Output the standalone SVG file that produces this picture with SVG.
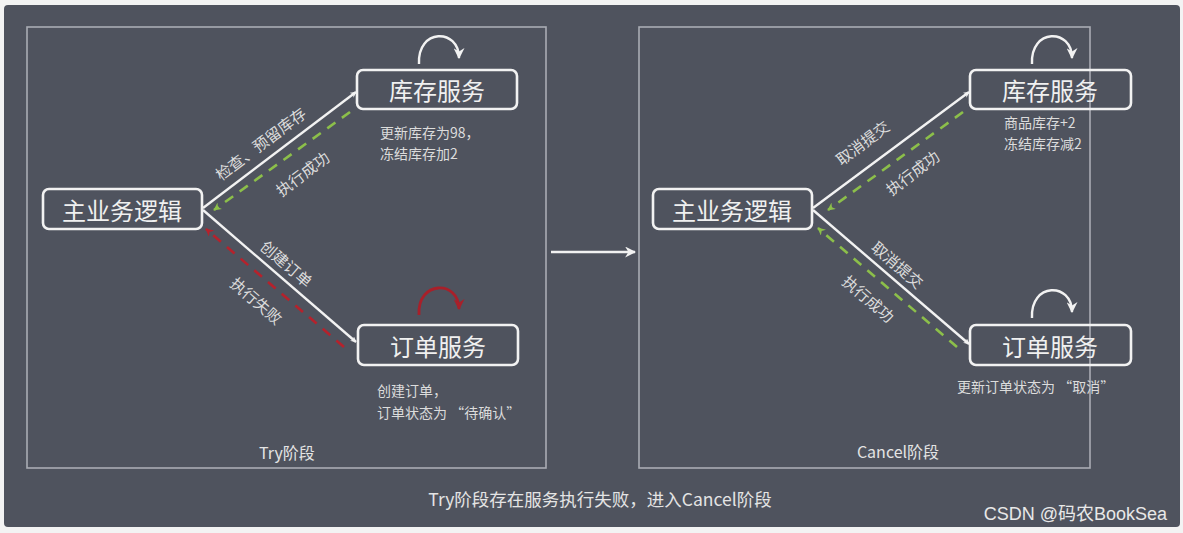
<svg xmlns="http://www.w3.org/2000/svg" width="1183" height="533" viewBox="0 0 1183 533">
<defs>
<style>
.bg{fill:#4f535e}
.panel{fill:none;stroke:#a9acb3;stroke-width:1.6}
.box{fill:none;stroke:#f2f2f2;stroke-width:2.6}
.nt{font-family:"Noto Sans CJK SC","Noto Sans",sans-serif;font-size:24px;fill:#f0f0f0;text-anchor:middle;dominant-baseline:central}
.note{font-family:"Noto Sans CJK SC","Noto Sans",sans-serif;font-size:14px;fill:#dcdcdc}
.lbl{font-family:"Noto Sans CJK SC","Noto Sans",sans-serif;font-size:15.5px;fill:#dcdcdc;text-anchor:middle;dominant-baseline:central}
.cap{font-family:"Noto Sans CJK SC","Noto Sans",sans-serif;fill:#e4e4e4;text-anchor:middle}
.w{fill:none;stroke:#f2f2f2;stroke-width:2.4}
.g{fill:none;stroke:#8cbf4a;stroke-width:2.6;stroke-dasharray:10 8}
.r{fill:none;stroke:#b5222c;stroke-width:2.6;stroke-dasharray:10 8}
.arcw{fill:none;stroke:#f2f2f2;stroke-width:2.4}
.arcr{fill:none;stroke:#a8202a;stroke-width:2.8}
</style>
<marker id="aw" viewBox="0 0 10 10" refX="9" refY="5" markerWidth="6" markerHeight="6" markerUnits="userSpaceOnUse" orient="auto"><path d="M0,0 L10,5 L0,10 L3,5 z" fill="#f2f2f2"/></marker>
<marker id="ag" viewBox="0 0 10 10" refX="9" refY="5" markerWidth="8" markerHeight="8" markerUnits="userSpaceOnUse" orient="auto"><path d="M0,0 L10,5 L0,10 L3,5 z" fill="#8cbf4a"/></marker>
<marker id="ar" viewBox="0 0 10 10" refX="9" refY="5" markerWidth="8" markerHeight="8" markerUnits="userSpaceOnUse" orient="auto"><path d="M0,0 L10,5 L0,10 L3,5 z" fill="#b5222c"/></marker>
<marker id="aw2" viewBox="0 0 10 10" refX="9" refY="5" markerWidth="11" markerHeight="11" markerUnits="userSpaceOnUse" orient="auto"><path d="M0,0 L10,5 L0,10 L3,5 z" fill="#f2f2f2"/></marker>
<marker id="ar2" viewBox="0 0 10 10" refX="9" refY="5" markerWidth="11" markerHeight="11" markerUnits="userSpaceOnUse" orient="auto"><path d="M0,0 L10,5 L0,10 L3,5 z" fill="#a8202a"/></marker>
</defs>
<rect x="0" y="0" width="1183" height="533" fill="#f3f3f3"/>
<rect class="bg" x="4" y="5" width="1176" height="522" rx="4"/>
<g id="panel-try">
<rect class="panel" x="27" y="27" width="519" height="441"/>
<text class="cap" x="287" y="459" font-size="16">Try阶段</text>
</g>
<g id="panel-cancel">
<rect class="panel" x="639" y="27" width="451" height="441"/>
<text class="cap" x="898" y="458" font-size="16">Cancel阶段</text>
</g>
<g id="try-main"><rect class="box" x="43" y="189" width="159" height="40" rx="6"/><text class="nt" x="122" y="209">主业务逻辑</text></g>
<g id="try-stock"><rect class="box" x="357" y="70" width="160" height="39" rx="6"/><text class="nt" x="437" y="89.5">库存服务</text>
<path class="arcw" d="M419,64 C417,28 459,28 459,58" marker-end="url(#aw2)"/>
<text class="note" x="380" y="138">更新库存为98，</text><text class="note" x="380" y="159">冻结库存加2</text></g>
<g id="try-order"><rect class="box" x="358" y="325" width="160" height="40" rx="6"/><text class="nt" x="438" y="345">订单服务</text>
<path class="arcr" d="M419,315 C417,280 459,280 459,309" marker-end="url(#ar2)"/>
<text class="note" x="377" y="396">创建订单，</text><text class="note" x="377" y="418">订单状态为 “待确认”</text></g>
<g id="cancel-main"><rect class="box" x="653" y="189" width="159" height="40" rx="6"/><text class="nt" x="732" y="209">主业务逻辑</text></g>
<g id="cancel-stock"><rect class="box" x="970" y="70" width="161" height="39" rx="6"/><text class="nt" x="1050" y="89.5">库存服务</text>
<path class="arcw" d="M1032,64 C1030,28 1072,28 1072,58" marker-end="url(#aw2)"/>
<text class="note" x="1004" y="128">商品库存+2</text><text class="note" x="1004" y="149">冻结库存减2</text></g>
<g id="cancel-order"><rect class="box" x="970" y="325" width="161" height="40" rx="6"/><text class="nt" x="1050" y="345">订单服务</text>
<path class="arcw" d="M1032,318 C1030,282 1072,282 1072,312" marker-end="url(#aw2)"/>
<text class="note" x="957" y="392">更新订单状态为 “取消”</text></g>
<g id="connectors">
<line class="w" x1="203" y1="208" x2="356" y2="92" marker-end="url(#aw)"/>
<line class="g" x1="350" y1="112" x2="214" y2="210" marker-end="url(#ag)"/>
<line class="w" x1="203" y1="210" x2="356" y2="342" marker-end="url(#aw)"/>
<line class="r" x1="344" y1="347" x2="206" y2="229" marker-end="url(#ar)"/>
<line class="w" x1="813" y1="208" x2="969" y2="92" marker-end="url(#aw)"/>
<line class="g" x1="963" y1="112" x2="828" y2="210" marker-end="url(#ag)"/>
<line class="w" x1="813" y1="210" x2="969" y2="344" marker-end="url(#aw)"/>
<line class="g" x1="957" y1="347" x2="818" y2="228" marker-end="url(#ag)"/>
<line class="w" x1="551" y1="252" x2="635" y2="252" marker-end="url(#aw2)"/>
</g>
<g id="labels">
<text class="lbl" transform="translate(260,143) rotate(-37)">检查、预留库存</text>
<text class="lbl" transform="translate(302,173) rotate(-37)">执行成功</text>
<text class="lbl" transform="translate(287,263) rotate(40.5)">创建订单</text>
<text class="lbl" transform="translate(257,300) rotate(40.5)">执行失败</text>
<text class="lbl" transform="translate(862,142) rotate(-37)">取消提交</text>
<text class="lbl" transform="translate(912,172) rotate(-37)">执行成功</text>
<text class="lbl" transform="translate(898,264) rotate(40.5)">取消提交</text>
<text class="lbl" transform="translate(869,298) rotate(40.5)">执行成功</text>
</g>
<text class="cap" x="600" y="506" font-size="17.5">Try阶段存在服务执行失败，进入Cancel阶段</text>
<text x="1167" y="520" font-family="Liberation Sans, 'Noto Sans CJK SC', sans-serif" font-size="18" fill="#e8e8e8" text-anchor="end">CSDN @码农BookSea</text>
</svg>
